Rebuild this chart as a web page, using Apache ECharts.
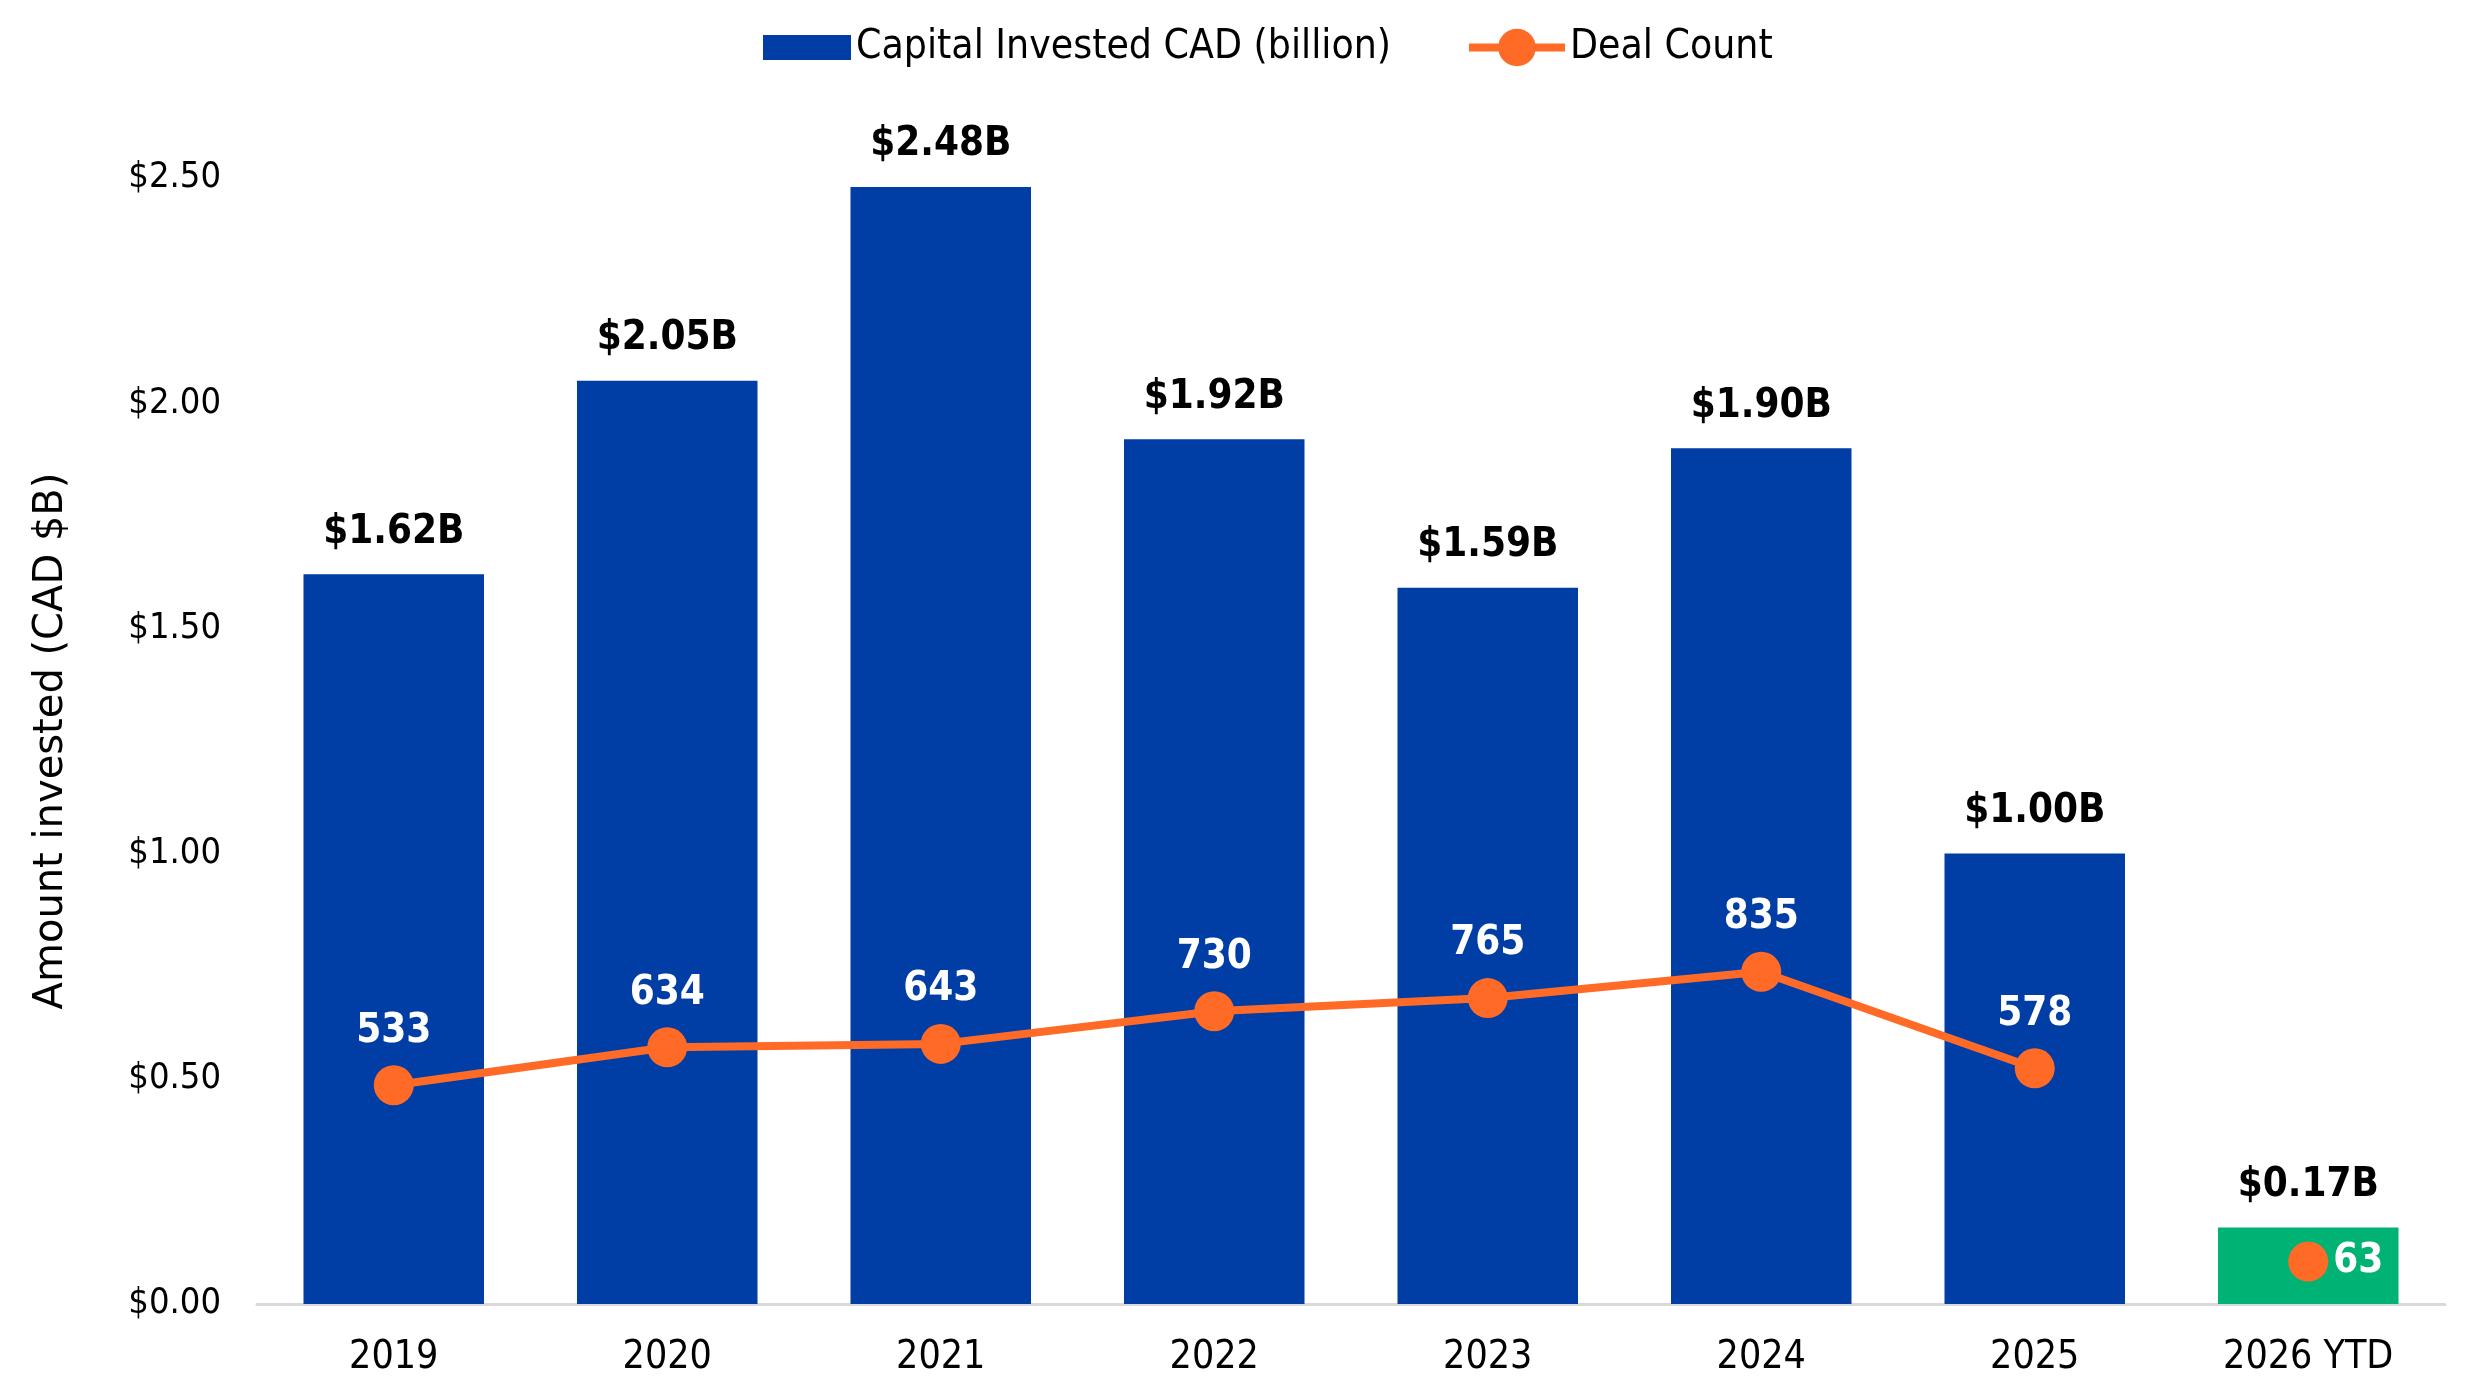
<!DOCTYPE html>
<html>
<head>
<meta charset="utf-8">
<script src="https://cdn.jsdelivr.net/npm/echarts@6/dist/echarts.min.js"></script>
<style>
html,body{margin:0;padding:0;background:#fff;}
#chart{width:2491px;height:1387px;}
</style>
</head>
<body>
<div id="chart"></div>
<script>
const categories = ['2019','2020','2021','2022','2023','2024','2025','2026 YTD'];
const capitalInvested = [1.62, 2.05, 2.48, 1.92, 1.59, 1.90, 1.00, 0.17];
const dealCounts = [533, 634, 643, 730, 765, 835, 578, 63];
const ytdFlags = [false, false, false, false, false, false, false, true];
const yTicks = [0, 0.5, 1.0, 1.5, 2.0, 2.5];

const FONT = "'DejaVu Sans Condensed', 'DejaVu Sans', sans-serif";
const BLUE = '#003DA5';
const GREEN = '#00B274';
const ORANGE = '#FF6B27';

const chart = echarts.init(document.getElementById('chart'));

const barData = capitalInvested.map((v, i) => ytdFlags[i]
  ? { value: v, itemStyle: { color: GREEN } }
  : { value: v });
const lineData = dealCounts.map((v, i) => ytdFlags[i] ? '-' : v);
const ytdPointData = dealCounts.map((v, i) => ytdFlags[i] ? v : '-');

chart.setOption({
  animation: false,
  backgroundColor: '#ffffff',
  legend: [
    {
      data: [{ name: 'Capital Invested CAD (billion)', icon: 'rect' }],
      left: 758, top: 22,
      itemWidth: 88, itemHeight: 25, itemGap: 12,
      textStyle: { fontFamily: FONT, fontSize: 40.5, color: '#000' },
      selectedMode: false
    },
    {
      data: ['Deal Count'],
      left: 1460, top: 22,
      itemWidth: 96, itemHeight: 47,
      lineStyle: { width: 8 },
      textStyle: { fontFamily: FONT, fontSize: 40.5, color: '#000' },
      selectedMode: false
    }
  ],
  grid: { left: 257, right: 46, top: 178, bottom: 83, containLabel: false },
  xAxis: {
    type: 'category',
    data: categories,
    axisLine: { show: true, lineStyle: { color: '#D9D9D9', width: 3 } },
    axisTick: { show: false },
    axisLabel: { fontFamily: FONT, fontSize: 39, color: '#000', margin: 34 }
  },
  yAxis: [
    {
      type: 'value',
      min: yTicks[0], max: yTicks[yTicks.length - 1], interval: 0.5,
      name: 'Amount invested (CAD $B)',
      nameLocation: 'middle',
      nameGap: 185,
      nameTextStyle: { fontFamily: "'DejaVu Sans', sans-serif", fontSize: 40, color: '#000' },
      axisLine: { show: false },
      axisTick: { show: false },
      splitLine: { show: false },
      axisLabel: {
        fontFamily: FONT, fontSize: 36, color: '#000', margin: 36,
        formatter: v => '$' + v.toFixed(2)
      }
    },
    {
      type: 'value',
      min: -50, max: 2950,
      show: false,
      splitLine: { show: false }
    }
  ],
  series: [
    {
      name: 'Capital Invested CAD (billion)',
      type: 'bar',
      data: barData,
      barCategoryGap: '34%',
      itemStyle: { color: BLUE },
      label: {
        show: true, position: 'top', distance: 22,
        fontFamily: FONT, fontSize: 40, fontWeight: 'bold', color: '#000',
        formatter: p => '$' + Number(p.value).toFixed(2) + 'B'
      },
      z: 2
    },
    {
      name: 'Deal Count',
      type: 'line',
      yAxisIndex: 1,
      data: lineData,
      symbol: 'circle',
      symbolSize: 40,
      lineStyle: { color: ORANGE, width: 8 },
      itemStyle: { color: ORANGE },
      label: {
        show: true, position: 'top', distance: 14,
        fontFamily: FONT, fontSize: 40, fontWeight: 'bold', color: '#fff'
      },
      z: 5
    },
    {
      name: 'Deal Count',
      type: 'line',
      yAxisIndex: 1,
      data: ytdPointData,
      symbol: 'circle',
      symbolSize: 40,
      showSymbol: true,
      lineStyle: { color: ORANGE, width: 8 },
      itemStyle: { color: ORANGE },
      label: {
        show: true, position: 'right', distance: 5,
        fontFamily: FONT, fontSize: 40, fontWeight: 'bold', color: '#fff'
      },
      z: 5
    }
  ]
});
</script>
</body>
</html>
